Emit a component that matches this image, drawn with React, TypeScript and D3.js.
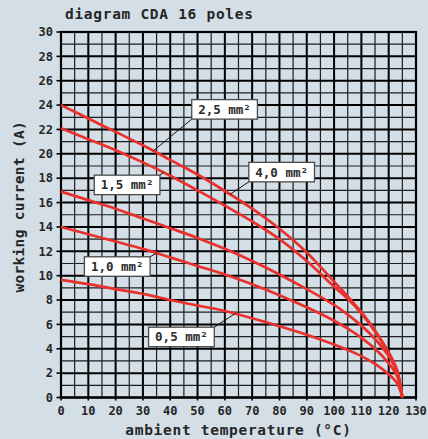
import React, { useRef, useEffect } from "react";
import * as d3 from "d3";

const width = 428;
const height = 439;
const margin = { top: 32, right: 12, bottom: 41.5, left: 61 };

// ambient temperature (°C) sample points
const temps = [0, 10, 20, 30, 40, 50, 60, 70, 80, 90, 100, 105, 110, 115, 120, 123, 125];
// working current (A) for each curve, top to bottom
const curveA = [24, 22.9, 21.8, 20.7, 19.5, 18.3, 16.95, 15.5, 13.85, 11.9, 9.5, 8.3, 7.0, 5.5, 3.7, 2.3, 0];
const curveB = [22.1, 21.2, 20.3, 19.3, 18.2, 17.0, 15.75, 14.45, 13.0, 11.2, 9.1, 8.1, 6.9, 5.4, 3.6, 2.2, 0];
const curveC = [16.9, 16.2, 15.5, 14.7, 13.9, 13.1, 12.2, 11.2, 10.1, 8.9, 7.6, 6.8, 5.9, 4.8, 3.4, 2.1, 0];
const curveD = [14.0, 13.4, 12.8, 12.2, 11.5, 10.8, 10.1, 9.3, 8.4, 7.4, 6.3, 5.65, 4.9, 4.0, 2.8, 1.8, 0];
const curveE = [9.65, 9.3, 8.9, 8.5, 8.0, 7.55, 7.1, 6.5, 5.85, 5.15, 4.35, 3.9, 3.4, 2.75, 1.9, 1.2, 0];
const curves = [curveA, curveB, curveC, curveD, curveE];

const xTickValues = [0, 10, 20, 30, 40, 50, 60, 70, 80, 90, 100, 110, 120, 130];
const yTickValues = [0, 2, 4, 6, 8, 10, 12, 14, 16, 18, 20, 22, 24, 26, 28, 30];

const labelTexts = ["2,5 mm²", "4,0 mm²", "1,5 mm²", "1,0 mm²", "0,5 mm²"];
const labelCurve = [0, 0, 1, 3, 4];

// annotation placement in data units (temp, current), leader corner, leader target temp
const labelPlace = [
  { t: 59.9, i: 23.65, corner: "bl", at: 33.8 },
  { t: 80.8, i: 18.5, corner: "bl", at: 61.9 },
  { t: 24.2, i: 17.45, corner: "tr", at: 37.5 },
  { t: 20.6, i: 10.75, corner: "tr", at: 35 },
  { t: 44.1, i: 4.97, corner: "tr", at: 63.7 },
];

const bg = "#d3dee6";
const red = "#ea302d";
const ink = "#262626";
const mono = "'DejaVu Sans Mono', monospace";

const valueAt = (series, t) => {
  const i = d3.bisectRight(temps, t) - 1;
  const k = Math.min(Math.max(i, 0), temps.length - 2);
  const f = (t - temps[k]) / (temps[k + 1] - temps[k]);
  return series[k] + f * (series[k + 1] - series[k]);
};

const App = () => {
  const svgRef = useRef();

  useEffect(() => {
    const svg = d3.select(svgRef.current);
    svg.selectAll("*").remove();

    const x = d3.scaleLinear().domain([0, 130]).range([margin.left, width - margin.right]);
    const y = d3.scaleLinear().domain([0, 30]).range([height - margin.bottom, margin.top]);

    svg.append("rect").attr("width", width).attr("height", height).attr("fill", bg);

    //grid
    const grid = svg.append("g");
    grid
      .selectAll(".vgrid")
      .data(x.ticks(26))
      .enter()
      .append("line")
      .attr("x1", (d) => x(d))
      .attr("x2", (d) => x(d))
      .attr("y1", y(0))
      .attr("y2", y(30))
      .attr("stroke", (d) => (d % 10 === 0 ? "#000" : "#1e1e1e"))
      .attr("stroke-width", (d) => (d % 10 === 0 ? 2 : 1.2));
    grid
      .selectAll(".hgrid")
      .data(y.ticks(30))
      .enter()
      .append("line")
      .attr("x1", x(0))
      .attr("x2", x(130))
      .attr("y1", (d) => y(d))
      .attr("y2", (d) => y(d))
      .attr("stroke", (d) => (d % 2 === 0 ? "#000" : "#1e1e1e"))
      .attr("stroke-width", (d) => (d % 2 === 0 ? 2 : 1.2));

    //frame
    svg
      .append("rect")
      .attr("x", x(0))
      .attr("y", y(30))
      .attr("width", x(130) - x(0))
      .attr("height", y(0) - y(30))
      .attr("fill", "none")
      .attr("stroke", "#000")
      .attr("stroke-width", 2.2);

    //curves
    const line = d3
      .line()
      .x((d) => x(d[0]))
      .y((d) => y(d[1]))
      .curve(d3.curveCatmullRom.alpha(0.5));
    svg
      .append("g")
      .selectAll("path")
      .data(curves)
      .enter()
      .append("path")
      .attr("d", (c) => line(temps.map((t, i) => [t, c[i]])))
      .attr("fill", "none")
      .attr("stroke", red)
      .attr("stroke-width", 2.7)
      .attr("stroke-linejoin", "round");

    //ticks
    svg
      .append("g")
      .selectAll("line")
      .data(yTickValues)
      .enter()
      .append("line")
      .attr("x1", x(0) - 4.5)
      .attr("x2", x(0))
      .attr("y1", (d) => y(d))
      .attr("y2", (d) => y(d))
      .attr("stroke", "#000")
      .attr("stroke-width", 1.6);
    svg
      .append("g")
      .selectAll("line")
      .data(xTickValues)
      .enter()
      .append("line")
      .attr("x1", (d) => x(d))
      .attr("x2", (d) => x(d))
      .attr("y1", y(0))
      .attr("y2", y(0) + 3)
      .attr("stroke", "#000")
      .attr("stroke-width", 1.6);

    svg
      .append("g")
      .selectAll("text")
      .data(yTickValues)
      .enter()
      .append("text")
      .text((d) => d)
      .attr("x", x(0) - 8)
      .attr("y", (d) => y(d) + 4.2)
      .attr("text-anchor", "end")
      .attr("font-family", mono)
      .attr("font-weight", "bold")
      .attr("font-size", 12)
      .attr("fill", ink);
    svg
      .append("g")
      .selectAll("text")
      .data(xTickValues)
      .enter()
      .append("text")
      .text((d) => d)
      .attr("x", (d) => x(d))
      .attr("y", y(0) + 17)
      .attr("text-anchor", "middle")
      .attr("font-family", mono)
      .attr("font-weight", "bold")
      .attr("font-size", 12)
      .attr("fill", ink);

    //titles
    svg
      .append("text")
      .text("diagram CDA 16 poles")
      .attr("x", 65)
      .attr("y", 18.5)
      .attr("font-family", mono)
      .attr("font-weight", "bold")
      .attr("font-size", 14.5)
      .attr("letter-spacing", 0.7)
      .attr("fill", ink);
    svg
      .append("text")
      .text("ambient temperature (°C)")
      .attr("x", (x(0) + x(130)) / 2)
      .attr("y", 435)
      .attr("text-anchor", "middle")
      .attr("font-family", mono)
      .attr("font-weight", "bold")
      .attr("font-size", 14.5)
      .attr("letter-spacing", 0.7)
      .attr("fill", ink);
    svg
      .append("text")
      .text("working current (A)")
      .attr("transform", `translate(23.5, ${(y(0) + y(30)) / 2 - 8}) rotate(-90)`)
      .attr("text-anchor", "middle")
      .attr("font-family", mono)
      .attr("font-weight", "bold")
      .attr("font-size", 14.5)
      .attr("letter-spacing", 0.3)
      .attr("fill", ink);

    //labels
    const gLabel = svg.append("g");
    labelTexts.forEach((txt, k) => {
      const p = labelPlace[k];
      const cx = x(p.t);
      const cy = y(p.i);
      const g = gLabel.append("g");
      const leader = g.append("line");
      const box = g.append("rect");
      const label = g
        .append("text")
        .text(txt)
        .attr("x", cx)
        .attr("y", cy + 4.5)
        .attr("text-anchor", "middle")
        .attr("font-family", mono)
        .attr("font-weight", "bold")
        .attr("font-size", 12.5)
        .attr("fill", "#2a2a2a");
      const w = label.node().getComputedTextLength() + 13;
      const h = 19.5;
      box
        .attr("x", cx - w / 2)
        .attr("y", cy - h / 2)
        .attr("width", w)
        .attr("height", h)
        .attr("fill", "#fff")
        .attr("stroke", "#4a4a4a")
        .attr("stroke-width", 1.3);
      const sx = p.corner === "bl" ? cx - w / 2 : cx + w / 2;
      const sy = p.corner === "bl" ? cy + h / 2 : cy - h / 2;
      leader
        .attr("x1", sx)
        .attr("y1", sy)
        .attr("x2", x(p.at))
        .attr("y2", y(valueAt(curves[labelCurve[k]], p.at)))
        .attr("stroke", "#111")
        .attr("stroke-width", 1);
    });
  }, []);

  return (
    <svg
      ref={svgRef}
      width={width}
      height={height}
      style={{ position: "absolute", left: 0, top: 0, display: "block" }}
    ></svg>
  );
};

export default App;
